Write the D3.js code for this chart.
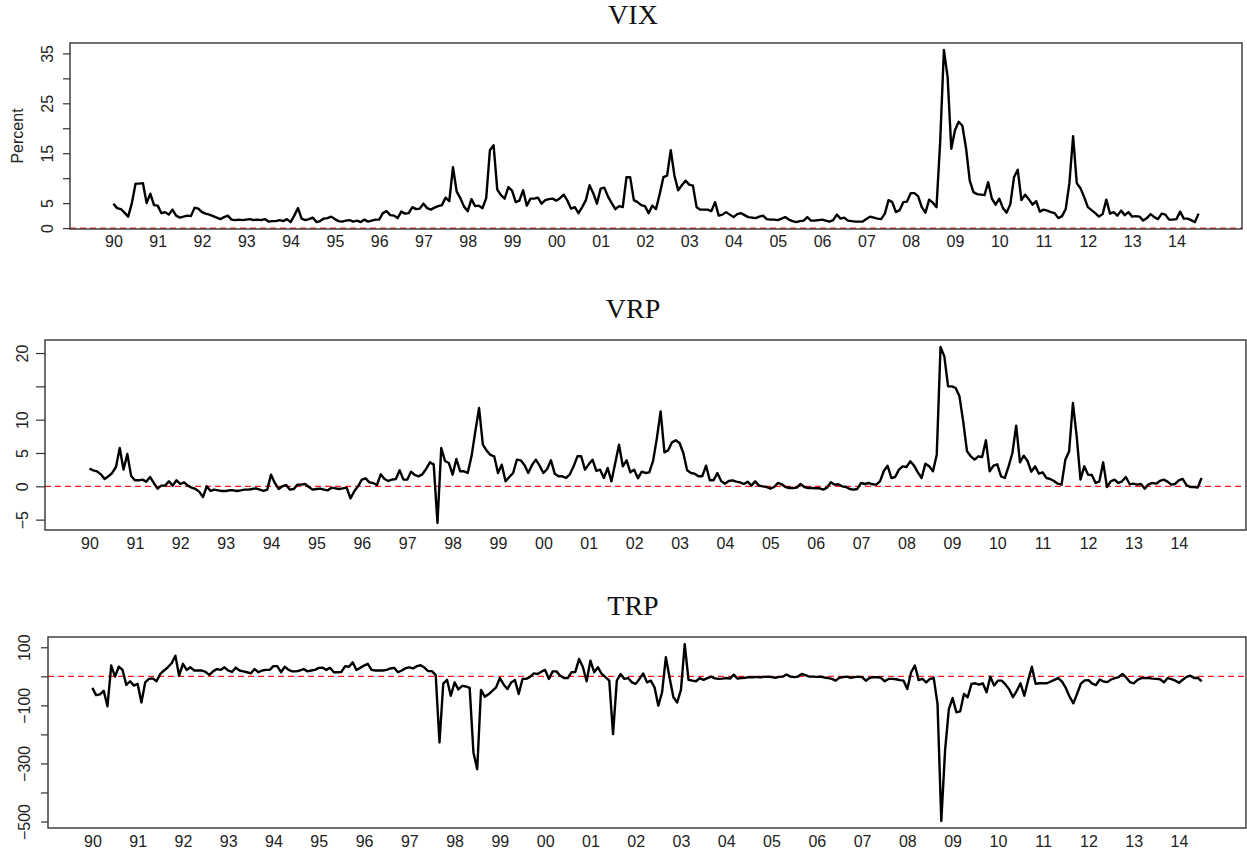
<!DOCTYPE html>
<html>
<head>
<meta charset="utf-8">
<script src="https://cdn.jsdelivr.net/npm/d3@7"></script>
<style>
  body { margin: 0; background: #fff; }
  svg { display: block; }
</style>
</head>
<body>
<div id="chart"></div>
<script>
// x-axis labels, one per year starting 1990
const yearLabels = ["90", "91", "92", "93", "94", "95", "96", "97", "98", "99", "00", "01", "02",
    "03", "04", "05", "06", "07", "08", "09", "10", "11", "12", "13", "14"];
const firstYear = 1990;

const vix = [
    4.9, 4.0, 3.8, 3.1, 2.3, 5.0, 8.9, 8.9, 9.0, 5.0, 6.9, 4.6,   // 1990
    4.5, 3.0, 3.2, 2.7, 3.7, 2.5, 2.1, 2.3, 2.5, 2.4, 4.1, 3.9,   // 1991
    3.2, 2.9, 2.7, 2.4, 2.1, 1.8, 2.2, 2.5, 1.7, 1.6, 1.7, 1.6,   // 1992
    1.7, 1.8, 1.6, 1.7, 1.6, 1.8, 1.3, 1.4, 1.4, 1.6, 1.4, 1.8,   // 1993
    1.2, 2.5, 4.0, 1.9, 1.6, 1.8, 2.1, 1.2, 1.4, 1.9, 2.0, 2.3,   // 1994
    1.8, 1.4, 1.3, 1.5, 1.6, 1.3, 1.5, 1.2, 1.7, 1.3, 1.5, 1.7,   // 1995
    1.7, 3.0, 3.4, 2.6, 2.5, 2.0, 3.3, 2.9, 3.0, 4.2, 3.8, 3.9,   // 1996
    4.9, 4.0, 3.7, 4.1, 4.4, 4.6, 6.1, 5.4, 12.2, 7.3, 6.0, 4.3,  // 1997
    3.4, 5.8, 4.4, 4.5, 4.0, 6.0, 15.6, 16.6, 7.7, 6.6, 5.9, 8.2, // 1998
    7.5, 5.2, 5.5, 7.6, 4.5, 5.9, 5.9, 6.1, 4.9, 5.6, 5.8, 5.9,   // 1999
    5.5, 6.0, 6.7, 5.5, 3.9, 4.2, 3.0, 4.2, 5.6, 8.6, 7.0, 4.9,   // 2000
    7.9, 8.1, 6.3, 5.0, 3.8, 4.4, 4.2, 10.2, 10.2, 5.6, 5.2, 4.6, // 2001
    4.4, 3.0, 4.5, 3.8, 6.8, 10.2, 10.5, 15.6, 10.5, 7.6, 8.6, 9.5, // 2002
    8.7, 8.5, 4.2, 3.7, 3.7, 3.7, 3.4, 5.2, 2.5, 2.7, 3.2, 2.7,   // 2003
    2.2, 2.8, 3.0, 2.6, 2.2, 2.1, 2.0, 2.3, 2.5, 1.8, 1.7, 1.7,   // 2004
    1.6, 1.9, 2.2, 1.7, 1.4, 1.2, 1.4, 1.5, 2.2, 1.5, 1.5, 1.6,   // 2005
    1.7, 1.5, 1.3, 1.6, 2.7, 1.9, 2.1, 1.5, 1.4, 1.3, 1.3, 1.3,   // 2006
    1.8, 2.3, 2.1, 1.9, 1.8, 2.9, 5.6, 5.2, 3.2, 3.6, 5.2, 5.3,   // 2007
    7.0, 7.0, 6.4, 4.2, 3.1, 5.7, 5.1, 4.2, 17.5, 35.7, 30.3, 15.9, // 2008
    19.6, 21.3, 20.5, 16.0, 9.5, 7.2, 6.8, 6.7, 6.6, 9.2, 5.9, 4.7, // 2009
    5.9, 4.0, 3.1, 4.8, 10.2, 11.7, 5.6, 6.7, 5.8, 4.7, 5.4, 3.3, // 2010
    3.7, 3.5, 3.2, 3.0, 2.0, 2.4, 3.8, 9.0, 18.4, 9.0, 8.0, 6.2,  // 2011
    4.2, 3.6, 3.0, 2.3, 2.8, 5.7, 2.9, 3.2, 2.5, 3.5, 2.6, 3.2,   // 2012
    2.3, 2.4, 2.3, 1.5, 2.0, 2.8, 2.2, 1.8, 2.9, 2.7, 1.7, 1.7,   // 2013
    1.8, 3.3, 1.9, 1.9, 1.6, 1.2, 2.9                              // 2014
];

const vrp = [
    2.65, 2.4, 2.25, 1.8, 1.1, 1.5, 2.0, 2.9, 5.75, 2.5, 4.85, 1.6,     // 1990
    0.9, 0.9, 1.0, 0.7, 1.4, 0.5, -0.35, 0.1, 0.1, 0.75, 0.1, 0.9,      // 1991
    0.35, 0.6, 0.1, -0.2, -0.4, -0.8, -1.6, 0.0, -0.7, -0.5, -0.6, -0.7, // 1992
    -0.7, -0.6, -0.6, -0.7, -0.6, -0.5, -0.5, -0.4, -0.3, -0.5, -0.7, -0.5, // 1993
    1.75, 0.5, -0.4, 0.0, 0.2, -0.5, -0.4, 0.25, 0.25, 0.35, -0.1, -0.5, // 1994
    -0.4, -0.35, -0.5, -0.6, -0.2, -0.3, -0.4, -0.3, -0.2, -1.8, -0.75, 0.0, // 1995
    1.0, 1.2, 0.6, 0.5, 0.2, 1.8, 1.1, 0.8, 1.0, 1.1, 2.4, 1.0,         // 1996
    1.0, 2.2, 1.7, 1.5, 1.8, 2.6, 3.6, 3.3, -5.5, 5.75, 3.8, 3.5,       // 1997
    1.75, 4.1, 2.25, 2.25, 2.0, 4.5, 8.2, 11.75, 6.25, 5.35, 4.7, 4.5,  // 1998
    2.0, 3.25, 0.75, 1.4, 2.0, 4.0, 3.9, 3.2, 2.0, 3.2, 4.0, 3.1,       // 1999
    2.0, 2.6, 3.9, 1.9, 1.5, 1.5, 1.25, 1.8, 3.0, 4.5, 4.5, 2.5,        // 2000
    3.3, 4.0, 2.3, 2.5, 1.25, 2.75, 0.75, 3.5, 6.25, 3.0, 3.9, 2.1,     // 2001
    2.5, 1.2, 2.2, 2.0, 2.1, 3.8, 7.2, 11.25, 5.1, 5.4, 6.6, 6.9,       // 2002
    6.5, 5.0, 2.4, 2.0, 1.9, 1.5, 1.5, 3.1, 0.9, 0.9, 2.0, 0.8,         // 2003
    0.4, 0.8, 0.9, 0.7, 0.6, 0.35, 0.7, 0.1, 0.75, 0.1, 0.0, -0.1,      // 2004
    -0.35, -0.1, 0.5, 0.3, -0.1, -0.25, -0.25, -0.2, 0.35, -0.1, -0.25, -0.25, // 2005
    -0.3, -0.3, -0.5, -0.2, 0.6, 0.25, 0.3, 0.0, -0.1, -0.4, -0.5, -0.4, // 2006
    0.5, 0.35, 0.5, 0.3, 0.25, 0.75, 2.3, 3.1, 1.25, 1.4, 2.5, 3.0,     // 2007
    2.9, 3.75, 3.1, 2.1, 1.25, 3.4, 3.0, 2.25, 4.75, 20.9, 19.5, 15.0,  // 2008
    15.0, 14.75, 13.5, 9.7, 5.25, 4.5, 4.0, 4.5, 4.4, 6.9, 2.25, 3.1,   // 2009
    3.3, 1.5, 1.25, 3.0, 5.0, 9.1, 3.6, 4.6, 3.8, 2.2, 3.0, 1.9,        // 2010
    2.1, 1.25, 1.1, 0.8, 0.4, 0.25, 4.0, 5.25, 12.5, 7.5, 1.0, 3.0,     // 2011
    1.75, 1.7, 0.5, 0.75, 3.6, -0.1, 0.75, 1.0, 0.5, 0.75, 1.4, 0.3,    // 2012
    0.4, 0.25, 0.35, -0.35, 0.3, 0.5, 0.4, 0.8, 1.0, 0.7, 0.25, 0.35,   // 2013
    0.9, 1.1, 0.2, -0.1, -0.1, -0.2, 1.25                                // 2014
];

const trp = [
    -40, -65, -62, -50, -103, 37, -1, 33, 22, -30, -17, -32,   // 1990
    -26, -90, -21, -9, -7, -17, 8, 20, 31, 45, 71, 2,          // 1991
    43, 22, 31, 20, 20, 20, 15, 5, 17, 25, 22, 31,             // 1992
    20, 15, 30, 20, 17, 14, 10, 25, 14, 20, 22, 22,            // 1993
    35, 35, 14, 33, 22, 17, 17, 20, 25, 17, 20, 22,            // 1994
    29, 30, 22, 29, 14, 14, 15, 35, 33, 48, 22, 29,            // 1995
    37, 43, 22, 20, 20, 20, 22, 27, 29, 14, 20, 28,            // 1996
    31, 27, 35, 38, 30, 18, 18, 4, -228, -25, -12, -67,        // 1997
    -21, -45, -33, -35, -40, -262, -320, -47, -70, -62, -50, -38, // 1998
    -6, -28, -44, -21, -13, -61, -9, -9, -2, 10, 8, 16,        // 1999
    22, -9, 17, 17, 2, -6, -6, 14, 15, 60, 32, -17,            // 2000
    54, 14, 31, 8, -3, -15, -199, -15, 8, -9, -6, -21,         // 2001
    -26, -9, 10, -21, -15, -38, -101, -55, 66, -6, -72, -90,   // 2002
    -47, 111, -12, -15, -17, -6, -12, -6, -1, -7, -9, -8,      // 2003
    -6, -8, 6, -8, -6, -5, -3, -3, -2, -3, -2, -1,             // 2004
    -3, -5, -2, -1, 6, -1, -3, -1, 8, 4, -1, -1,               // 2005
    -2, -1, -4, -6, -9, -15, -5, -3, -1, -5, -3, -1,           // 2006
    -3, -15, -6, -3, -3, -5, -17, -9, -9, -10, -13, -15,       // 2007
    -44, 14, 37, -13, -9, -21, -9, -6, -95, -498, -256, -113,  // 2008
    -75, -124, -121, -61, -72, -26, -24, -29, -24, -55, -1, -32, // 2009
    -15, -15, -28, -45, -72, -50, -24, -67, -15, 33, -26, -24, // 2010
    -24, -24, -18, -12, -6, -18, -40, -70, -93, -60, -25, -14, // 2011
    -13, -25, -30, -11, -18, -20, -11, -6, -3, 8, -4, -20,     // 2012
    -24, -12, -6, -6, -6, -8, -9, -10, -21, -6, -10, -15,      // 2013
    -22, -12, -2, 2, -6, -5, -17                               // 2014
];

// y tick values, and the subset that carries a label
const vixTicks = [0, 5, 10, 15, 20, 25, 30, 35];
const vixLabeled = [0, 5, 15, 25, 35];
const vrpTicks = [-5, 0, 5, 10, 15, 20];
const vrpLabeled = [-5, 0, 5, 10, 20];
const trpTicks = [-500, -400, -300, -200, -100, 0, 100];
const trpLabeled = [-500, -300, -100, 100];

const width = 1247;
const height = 856;
const sans = "'Liberation Sans', Arial, Helvetica, sans-serif";
const serif = "'Liberation Serif', 'Times New Roman', Times, serif";

const panels = [
    { title: "VIX", values: vix, ticks: vixTicks, labeled: vixLabeled, ylab: "Percent",
      left: 70, right: 1242, top: 43, bottom: 229, titleY: 24, tickLen: 7, labelX: 53, xLabelY: 247 },
    { title: "VRP", values: vrp, ticks: vrpTicks, labeled: vrpLabeled,
      left: 45, right: 1246, top: 340, bottom: 530, titleY: 318, tickLen: 9, labelX: 28, xLabelY: 549 },
    { title: "TRP", values: trp, ticks: trpTicks, labeled: trpLabeled,
      left: 48, right: 1246, top: 637, bottom: 828, titleY: 615, tickLen: 7, labelX: 30, xLabelY: 847 }
];

const svg = d3.select("#chart").append("svg")
    .attr("width", width)
    .attr("height", height);

// decimal-year time for each monthly point
const times = d3.range(vix.length).map(i => firstYear + i / 12);
const lastTime = times[times.length - 1];
// R style 4% padding on both axes
const xPad = (lastTime - firstYear) * 0.04;
const xDomain = [firstYear - xPad, lastTime + xPad];
const yearTicks = d3.range(firstYear, firstYear + yearLabels.length);

function fmt(d) {
    return String(d).replace("-", "\u2212");
}

panels.forEach(p => {
    const x = d3.scaleLinear().domain(xDomain).range([p.left, p.right]);
    const ext = d3.extent(p.values);
    const pad = (ext[1] - ext[0]) * 0.04;
    const y = d3.scaleLinear().domain([ext[0] - pad, ext[1] + pad]).range([p.bottom, p.top]);

    const g = svg.append("g");

    // title
    g.append("text")
        .attr("x", 633)
        .attr("y", p.titleY)
        .attr("text-anchor", "middle")
        .attr("font-family", serif)
        .attr("font-size", 28)
        .attr("fill", "#111")
        .text(p.title);

    // red dashed zero line
    g.append("line")
        .attr("x1", p.left).attr("x2", p.right)
        .attr("y1", y(0)).attr("y2", y(0))
        .attr("stroke", "#ff1a1a")
        .attr("stroke-width", 1.3)
        .attr("stroke-dasharray", "6,4");

    // the series
    const line = d3.line()
        .x((d, i) => x(times[i]))
        .y(d => y(d));
    g.append("path")
        .datum(p.values)
        .attr("d", line)
        .attr("fill", "none")
        .attr("stroke", "#000")
        .attr("stroke-width", 2.4)
        .attr("stroke-linejoin", "round");

    // plot box
    g.append("rect")
        .attr("x", p.left).attr("y", p.top)
        .attr("width", p.right - p.left)
        .attr("height", p.bottom - p.top)
        .attr("fill", "none")
        .attr("stroke", "#333")
        .attr("stroke-width", 1.4);

    // y axis, rotated labels like R's default
    const ya = g.append("g")
        .attr("transform", `translate(${p.left},0)`)
        .call(d3.axisLeft(y)
            .tickValues(p.ticks)
            .tickSize(p.tickLen)
            .tickFormat(d => p.labeled.includes(d) ? fmt(d) : ""));
    ya.select(".domain").remove();
    ya.attr("font-family", sans).attr("font-size", 16);
    ya.selectAll(".tick line").attr("stroke", "#333").attr("stroke-width", 1.2);
    ya.selectAll(".tick text")
        .attr("x", null)
        .attr("dy", null)
        .attr("fill", "#222")
        .attr("text-anchor", "middle")
        .attr("transform", `translate(${p.labelX - p.left},0) rotate(-90)`);

    // x axis: year labels only, no tick marks
    const xa = g.append("g")
        .attr("transform", `translate(0,${p.bottom})`)
        .call(d3.axisBottom(x)
            .tickValues(yearTicks)
            .tickSize(0)
            .tickFormat((d, i) => yearLabels[i]));
    xa.select(".domain").remove();
    xa.attr("font-family", sans).attr("font-size", 16);
    xa.selectAll(".tick text")
        .attr("y", p.xLabelY - p.bottom)
        .attr("dy", null)
        .attr("fill", "#222");

    if (p.ylab) {
        g.append("text")
            .attr("transform", `translate(23,${(p.top + p.bottom) / 2}) rotate(-90)`)
            .attr("text-anchor", "middle")
            .attr("font-family", sans)
            .attr("font-size", 16)
            .attr("fill", "#222")
            .text(p.ylab);
    }
});
</script>
</body>
</html>
